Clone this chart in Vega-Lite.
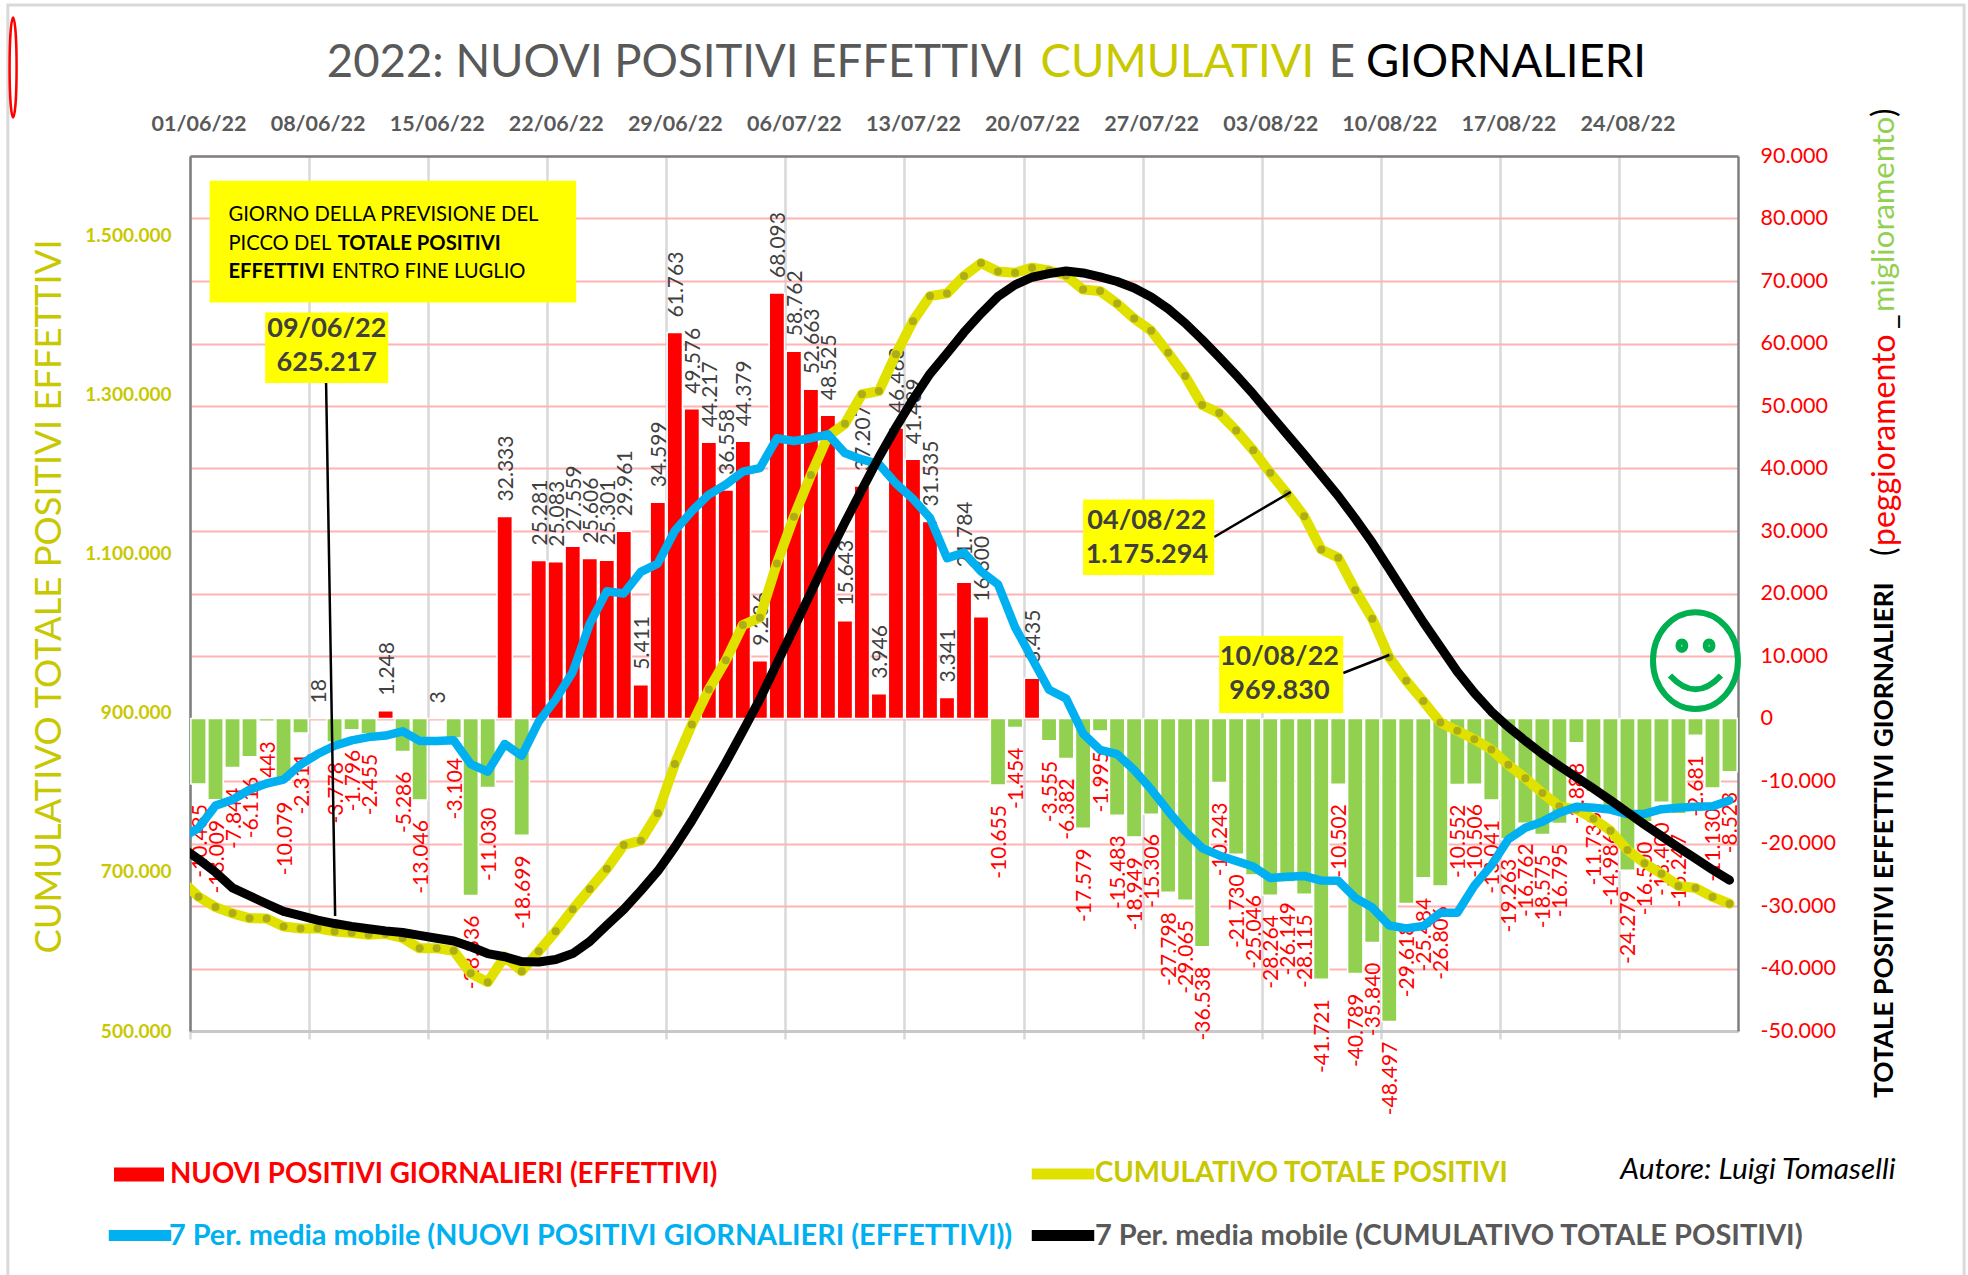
{"$schema":"https://vega.github.io/schema/vega-lite/v6.json","width":1548,"height":875,"autosize":{"type":"none"},"padding":{"left":190,"top":156,"right":230,"bottom":244},"background":"white","config":{"font":"Lato","view":{"stroke":null},"locale":{"number":{"decimal":",","thousands":".","grouping":[3],"currency":["","€"],"minus":"-"}}},
"data":{"values":[
{"d":"2022-05-31T00:00","c":689000,"m":-19120,"b":731000},
{"d":"2022-06-01T00:00","v":-10485,"c":668779,"m":-17520,"b":716000},
{"d":"2022-06-02T00:00","v":-13009,"c":655770,"m":-13940,"b":699500},
{"d":"2022-06-03T00:00","v":-7844,"c":647926,"m":-13000,"b":680000},
{"d":"2022-06-04T00:00","v":-6116,"c":641810,"m":-11400,"b":670000},
{"d":"2022-06-05T00:00","v":-443,"c":641367,"m":-10400,"b":660000},
{"d":"2022-06-06T00:00","v":-10079,"c":631288,"m":-9780,"b":650400},
{"d":"2022-06-07T00:00","v":-2311,"c":628977,"m":-7370,"b":645131},
{"d":"2022-06-08T00:00","v":18,"c":628995,"m":-5683,"b":639447},
{"d":"2022-06-09T00:00","v":-3778,"c":625217,"m":-4365,"b":635083},
{"d":"2022-06-10T00:00","v":-1796,"c":623421,"m":-3501,"b":631582},
{"d":"2022-06-11T00:00","v":-2455,"c":620966,"m":-2978,"b":628604},
{"d":"2022-06-12T00:00","v":1248,"c":622214,"m":-2736,"b":625868},
{"d":"2022-06-13T00:00","v":-5286,"c":616928,"m":-2051,"b":623817},
{"d":"2022-06-14T00:00","v":-13046,"c":603882,"m":-3585,"b":620232},
{"d":"2022-06-15T00:00","v":3,"c":603885,"m":-3587,"b":616645},
{"d":"2022-06-16T00:00","v":-3104,"c":600781,"m":-3491,"b":613154},
{"d":"2022-06-17T00:00","v":-28336,"c":572445,"m":-7282,"b":605872},
{"d":"2022-06-18T00:00","v":-11030,"c":561415,"m":-8507,"b":597364},
{"d":"2022-06-19T00:00","v":32333,"c":593748,"m":-4067,"b":593298},
{"d":"2022-06-20T00:00","v":-18699,"c":575049,"m":-5983,"b":587315},
{"d":"2022-06-21T00:00","v":25281,"c":600330,"m":-507,"b":586807},
{"d":"2022-06-22T00:00","v":25083,"c":625413,"m":3075,"b":589883},
{"d":"2022-06-23T00:00","v":27559,"c":652972,"m":7456,"b":597339},
{"d":"2022-06-24T00:00","v":25606,"c":678578,"m":15162,"b":612501},
{"d":"2022-06-25T00:00","v":25301,"c":703879,"m":20352,"b":632853},
{"d":"2022-06-26T00:00","v":29961,"c":733840,"m":20013,"b":652866},
{"d":"2022-06-27T00:00","v":5411,"c":739251,"m":23457,"b":676323},
{"d":"2022-06-28T00:00","v":34599,"c":773850,"m":24789,"b":701112},
{"d":"2022-06-29T00:00","v":61763,"c":835613,"m":30029,"b":731141},
{"d":"2022-06-30T00:00","v":49576,"c":885189,"m":33174,"b":764314},
{"d":"2022-07-01T00:00","v":44217,"c":929406,"m":35833,"b":800147},
{"d":"2022-07-02T00:00","v":36558,"c":965964,"m":37441,"b":837588},
{"d":"2022-07-03T00:00","v":44379,"c":1010343,"m":39500,"b":877088},
{"d":"2022-07-04T00:00","v":9236,"c":1019579,"m":40047,"b":917135},
{"d":"2022-07-05T00:00","v":68093,"c":1087672,"m":44832,"b":961967},
{"d":"2022-07-06T00:00","v":58762,"c":1146434,"m":44403,"b":1006370},
{"d":"2022-07-07T00:00","v":52663,"c":1199097,"m":44844,"b":1051214},
{"d":"2022-07-08T00:00","v":48525,"c":1247622,"m":45459,"b":1096673},
{"d":"2022-07-09T00:00","v":15643,"c":1263265,"m":42472,"b":1139145},
{"d":"2022-07-10T00:00","v":37207,"c":1300472,"m":41447,"b":1180592},
{"d":"2022-07-11T00:00","v":3946,"c":1304418,"m":40691,"b":1221283},
{"d":"2022-07-12T00:00","v":46463,"c":1350881,"m":37601,"b":1258884},
{"d":"2022-07-13T00:00","v":41489,"c":1392370,"m":35134,"b":1294018},
{"d":"2022-07-14T00:00","v":31535,"c":1423905,"m":32115,"b":1326133},
{"d":"2022-07-15T00:00","v":3341,"c":1427246,"m":25661,"b":1351794},
{"d":"2022-07-16T00:00","v":21784,"c":1449030,"m":26538,"b":1378332},
{"d":"2022-07-17T00:00","v":16300,"c":1465330,"m":23551,"b":1401883},
{"d":"2022-07-18T00:00","v":-10655,"c":1454675,"m":21465,"b":1423348},
{"d":"2022-07-19T00:00","v":-1454,"c":1453221,"m":14620,"b":1437968},
{"d":"2022-07-20T00:00","v":6435,"c":1459656,"m":9612,"b":1447580},
{"d":"2022-07-21T00:00","v":-3555,"c":1456101,"m":4599,"b":1452180},
{"d":"2022-07-22T00:00","v":-6382,"c":1449719,"m":3210,"b":1455390},
{"d":"2022-07-23T00:00","v":-17579,"c":1432140,"m":-2413,"b":1452977},
{"d":"2022-07-24T00:00","v":-1995,"c":1430145,"m":-5026,"b":1447951},
{"d":"2022-07-25T00:00","v":-15483,"c":1414662,"m":-5716,"b":1442235},
{"d":"2022-07-26T00:00","v":-18949,"c":1395713,"m":-8215,"b":1434019},
{"d":"2022-07-27T00:00","v":-15306,"c":1380407,"m":-11321,"b":1422698},
{"d":"2022-07-28T00:00","v":-27798,"c":1352609,"m":-14785,"b":1407914},
{"d":"2022-07-29T00:00","v":-29065,"c":1323544,"m":-18025,"b":1389889},
{"d":"2022-07-30T00:00","v":-36538,"c":1287006,"m":-20733,"b":1369155},
{"d":"2022-07-31T00:00","v":-10243,"c":1276763,"m":-21912,"b":1347243},
{"d":"2022-08-01T00:00","v":-21730,"c":1255033,"m":-22804,"b":1324439},
{"d":"2022-08-02T00:00","v":-25046,"c":1229987,"m":-23675,"b":1300764},
{"d":"2022-08-03T00:00","v":-28264,"c":1201723,"m":-25526,"b":1275238},
{"d":"2022-08-04T00:00","v":-26149,"c":1175294,"m":-25331,"b":1249907},
{"d":"2022-08-05T00:00","v":-28115,"c":1147179,"m":-25195,"b":1224712},
{"d":"2022-08-06T00:00","v":-41721,"c":1105458,"m":-25935,"b":1198777},
{"d":"2022-08-07T00:00","v":-10502,"c":1094956,"m":-25972,"b":1172804},
{"d":"2022-08-08T00:00","v":-40789,"c":1054167,"m":-28695,"b":1144109},
{"d":"2022-08-09T00:00","v":-35840,"c":1018327,"m":-30237,"b":1113872},
{"d":"2022-08-10T00:00","v":-48497,"c":969830,"m":-33128,"b":1080744},
{"d":"2022-08-11T00:00","v":-29618,"c":940212,"m":-33583,"b":1047161},
{"d":"2022-08-12T00:00","v":-25484,"c":914728,"m":-33207,"b":1013954},
{"d":"2022-08-13T00:00","v":-26806,"c":887922,"m":-31077,"b":982877},
{"d":"2022-08-14T00:00","v":-10552,"c":877370,"m":-31084,"b":951794},
{"d":"2022-08-15T00:00","v":-10506,"c":866864,"m":-26758,"b":925036},
{"d":"2022-08-16T00:00","v":-13041,"c":853823,"m":-23501,"b":901536},
{"d":"2022-08-17T00:00","v":-19263,"c":834560,"m":-19324,"b":882211},
{"d":"2022-08-18T00:00","v":-16762,"c":817798,"m":-17488,"b":864724},
{"d":"2022-08-19T00:00","v":-18575,"c":799223,"m":-16501,"b":848223},
{"d":"2022-08-20T00:00","v":-16795,"c":782428,"m":-15071,"b":833152},
{"d":"2022-08-21T00:00","v":-3888,"c":778540,"m":-14119,"b":819034},
{"d":"2022-08-22T00:00","v":-11733,"c":766807,"m":-14294,"b":804740},
{"d":"2022-08-23T00:00","v":-14986,"c":751821,"m":-14572,"b":790168},
{"d":"2022-08-24T00:00","v":-24279,"c":727542,"m":-15288,"b":774880},
{"d":"2022-08-25T00:00","v":-16500,"c":711042,"m":-15251,"b":759629},
{"d":"2022-08-26T00:00","v":-13400,"c":697642,"m":-14512,"b":745117},
{"d":"2022-08-27T00:00","v":-15247,"c":682395,"m":-14290,"b":730827},
{"d":"2022-08-28T00:00","v":-2681,"c":679714,"m":-14118,"b":716709},
{"d":"2022-08-29T00:00","v":-11130,"c":668584,"m":-14032,"b":702677},
{"d":"2022-08-30T00:00","v":-8523,"c":660061,"m":-13109,"b":689569}
]},
"resolve":{"scale":{"y":"independent","color":"independent"},"axis":{"x":"independent","y":"independent"},"legend":{"color":"independent"}},
"layer":[
{"layer":[
{"transform":[{"filter":"isValid(datum.v)"},{"calculate":"datum.v>=0?'NUOVI POSITIVI GIORNALIERI (EFFETTIVI)':'miglioramento'","as":"tipo"}],
"mark":{"type":"bar","width":15.3,"stroke":"white","strokeWidth":1.5},
"encoding":{
"x":{"field":"d","type":"temporal","scale":{"domain":["2022-05-31T12:00","2022-08-30T12:00"],"padding":0},"axis":{"orient":"top","title":null,"grid":false,"ticks":false,"domain":true,"domainColor":"#7f7f7f","domainWidth":2.5,"format":"%d/%m/%y","formatType":"time","labelFontSize":21.5,"labelFontWeight":"bold","labelColor":"#595959","labelPadding":21,"labelOverlap":false,"labelFlush":false,"values":["2022-06-01T00:00","2022-06-08T00:00","2022-06-15T00:00","2022-06-22T00:00","2022-06-29T00:00","2022-07-06T00:00","2022-07-13T00:00","2022-07-20T00:00","2022-07-27T00:00","2022-08-03T00:00","2022-08-10T00:00","2022-08-17T00:00","2022-08-24T00:00"]}},
"y":{"field":"v","type":"quantitative","scale":{"domain":[-50000,90000],"nice":false},"axis":{"orient":"right","title":null,"format":",d","values":[-50000,-40000,-30000,-20000,-10000,0,10000,20000,30000,40000,50000,60000,70000,80000,90000],"labelFontSize":21.5,"labelColor":"#ff0000","labelPadding":22,"ticks":false,"domain":true,"domainColor":"#7f7f7f","domainWidth":2.5,"grid":true,"gridColor":"#ffb3b3","gridWidth":2,"labelOverlap":false,"labelFlush":false}},
"color":{"field":"tipo","type":"nominal","scale":{"domain":["NUOVI POSITIVI GIORNALIERI (EFFETTIVI)","miglioramento"],"range":["#ff0000","#92d050"]},"legend":{"values":["NUOVI POSITIVI GIORNALIERI (EFFETTIVI)"],"orient":"none","legendX":-76,"legendY":993.5,"title":null,"padding":0,"labelFontSize":27.7,"labelFontWeight":"bold","labelColor":"#ff0000","labelLimit":1000,"symbolType":"M-1,-0.28H1V0.28H-1Z","symbolSize":2500,"symbolStrokeWidth":0,"labelOffset":6}}}},
{"transform":[{"filter":"isValid(datum.v) && datum.v>=0"}],"mark":{"type":"text","angle":270,"align":"left","baseline":"middle","dx":15,"dy":2,"fontSize":21,"color":"#404040"},"encoding":{"x":{"field":"d","type":"temporal"},"y":{"field":"v","type":"quantitative"},"text":{"field":"v","type":"quantitative","format":",d"}}},
{"transform":[{"filter":"isValid(datum.v) && datum.v<0"}],"mark":{"type":"text","angle":270,"align":"right","baseline":"middle","dx":-20,"dy":2,"fontSize":21,"color":"#ff0000"},"encoding":{"x":{"field":"d","type":"temporal"},"y":{"field":"v","type":"quantitative"},"text":{"field":"v","type":"quantitative","format":",d"}}}
]},
{"layer":[
{"mark":{"type":"line","strokeWidth":10,"strokeCap":"round","strokeJoin":"round","clip":true},
"encoding":{
"x":{"field":"d","type":"temporal","axis":{"orient":"bottom","title":null,"labels":false,"grid":true,"gridColor":"#d9d9d9","gridWidth":2.5,"ticks":true,"tickSize":8,"tickColor":"#d9d9d9","tickWidth":2.5,"domain":true,"domainColor":"#c8c8c8","domainWidth":3,"values":["2022-05-31T12:00","2022-06-07T12:00","2022-06-14T12:00","2022-06-21T12:00","2022-06-28T12:00","2022-07-05T12:00","2022-07-12T12:00","2022-07-19T12:00","2022-07-26T12:00","2022-08-02T12:00","2022-08-09T12:00","2022-08-16T12:00","2022-08-23T12:00"]}},
"y":{"field":"c","type":"quantitative","scale":{"domain":[500000,1600000],"nice":false},"axis":{"orient":"left","title":"CUMULATIVO TOTALE POSITIVI EFFETTIVI","titleColor":"#c8c800","titleFontSize":36.4,"titleFontWeight":"normal","titleX":-122,"titleY":440,"format":",d","values":[500000,700000,900000,1100000,1300000,1500000],"labelFontSize":19,"labelFontWeight":"bold","labelColor":"#c8c800","labelPadding":19,"ticks":false,"domain":true,"domainColor":"#7f7f7f","domainWidth":2.5,"grid":false,"labelOverlap":false,"labelFlush":false}},
"color":{"datum":"CUMULATIVO TOTALE POSITIVI","type":"nominal","scale":{"range":["#e1e100"]},"legend":{"orient":"none","legendX":836,"legendY":981,"title":null,"padding":0,"labelFontSize":27.7,"labelFontWeight":"bold","labelColor":"#c8c800","labelLimit":1000,"symbolType":"stroke","symbolSize":3900,"symbolStrokeWidth":11,"labelOffset":-5}}}},
{"mark":{"type":"point","filled":true,"size":64,"color":"#a3a31a","opacity":0.85,"clip":true},"encoding":{"x":{"field":"d","type":"temporal"},"y":{"field":"c","type":"quantitative"}}}
]},
{"mark":{"type":"line","strokeWidth":8.5,"strokeCap":"round","strokeJoin":"round","clip":true},
"encoding":{"x":{"field":"d","type":"temporal","axis":null},"y":{"field":"m","type":"quantitative","scale":{"domain":[-50000,90000],"nice":false},"axis":null},
"color":{"datum":"7 Per. media mobile (NUOVI POSITIVI GIORNALIERI (EFFETTIVI))","type":"nominal","scale":{"range":["#00b0f0"]},"legend":{"orient":"none","legendX":-87,"legendY":1042.5,"title":null,"padding":0,"labelFontSize":28.8,"labelFontWeight":"bold","labelColor":"#00b0f0","labelLimit":1200,"symbolType":"stroke","symbolSize":3900,"symbolStrokeWidth":11,"labelOffset":-8}}}},
{"mark":{"type":"line","strokeWidth":9,"strokeCap":"round","strokeJoin":"round","clip":true},
"encoding":{"x":{"field":"d","type":"temporal","axis":null},"y":{"field":"b","type":"quantitative","scale":{"domain":[500000,1600000],"nice":false},"axis":null},
"color":{"datum":"7 Per. media mobile (CUMULATIVO TOTALE POSITIVI)","type":"nominal","scale":{"range":["#000000"]},"legend":{"orient":"none","legendX":836,"legendY":1042.5,"title":null,"padding":0,"labelFontSize":29,"labelFontWeight":"bold","labelColor":"#595959","labelLimit":1200,"symbolType":"stroke","symbolSize":3900,"symbolStrokeWidth":11,"labelOffset":-5}}}},
{"data":{"values":[{"n":1}]},"layer":[
{"mark":{"type":"rect","fill":null,"stroke":"#d9d9d9","strokeWidth":3},"encoding":{"x":{"datum":{"year":2022,"month":5,"date":20,"hours":19},"type":"temporal","axis":null},"x2":{"datum":{"year":2022,"month":9,"date":12,"hours":19}},"y":{"datum":114160,"type":"quantitative","scale":{"domain":[-50000,90000],"nice":false},"axis":null},"y2":{"datum":-91440}}},
{"mark":{"type":"rule","color":"black","strokeWidth":2.5},"encoding":{"x":{"datum":{"year":2022,"month":6,"date":8,"hours":12},"type":"temporal","axis":null},"x2":{"datum":{"year":2022,"month":6,"date":9,"hours":0,"minutes":45}},"y":{"datum":53680,"type":"quantitative"},"y2":{"datum":-31600}}},
{"mark":{"type":"rule","color":"black","strokeWidth":2.5},"encoding":{"x":{"datum":{"year":2022,"month":7,"date":30,"hours":17},"type":"temporal","axis":null},"x2":{"datum":{"year":2022,"month":8,"date":4,"hours":5}},"y":{"datum":29040,"type":"quantitative"},"y2":{"datum":36240}}},
{"mark":{"type":"rule","color":"black","strokeWidth":2.5},"encoding":{"x":{"datum":{"year":2022,"month":8,"date":7,"hours":7},"type":"temporal","axis":null},"x2":{"datum":{"year":2022,"month":8,"date":10,"hours":0}},"y":{"datum":7280,"type":"quantitative"},"y2":{"datum":10160}}},
{"mark":{"type":"rect","fill":"#ffff00"},"encoding":{"x":{"datum":{"year":2022,"month":6,"date":1,"hours":15,"minutes":40},"type":"temporal","axis":null},"x2":{"datum":{"year":2022,"month":6,"date":23,"hours":4,"minutes":48}},"y":{"datum":86048,"type":"quantitative"},"y2":{"datum":66560}}},
{"mark":{"type":"rect","fill":"#ffff00"},"encoding":{"x":{"datum":{"year":2022,"month":6,"date":4,"hours":22},"type":"temporal","axis":null},"x2":{"datum":{"year":2022,"month":6,"date":12,"hours":3,"minutes":40}},"y":{"datum":64960,"type":"quantitative"},"y2":{"datum":53680}}},
{"mark":{"type":"rect","fill":"#ffff00"},"encoding":{"x":{"datum":{"year":2022,"month":7,"date":23},"type":"temporal","axis":null},"x2":{"datum":{"year":2022,"month":7,"date":30,"hours":17}},"y":{"datum":35040,"type":"quantitative"},"y2":{"datum":22960}}},
{"mark":{"type":"rect","fill":"#ffff00"},"encoding":{"x":{"datum":{"year":2022,"month":7,"date":31},"type":"temporal","axis":null},"x2":{"datum":{"year":2022,"month":8,"date":7,"hours":7}},"y":{"datum":13200,"type":"quantitative"},"y2":{"datum":880}}},
{"mark":{"type":"text","align":"left","baseline":"middle","fontSize":20.2,"color":"black"},"encoding":{"x":{"datum":{"year":2022,"month":6,"date":2,"hours":18,"minutes":14},"type":"temporal","axis":null},"y":{"datum":80624,"type":"quantitative"},"text":{"value":"GIORNO DELLA PREVISIONE DEL"}}},
{"mark":{"type":"text","align":"left","baseline":"middle","fontSize":20.2,"color":"black"},"encoding":{"x":{"datum":{"year":2022,"month":6,"date":2,"hours":18,"minutes":14},"type":"temporal","axis":null},"y":{"datum":76000,"type":"quantitative"},"text":{"value":"PICCO DEL"}}},
{"mark":{"type":"text","align":"left","baseline":"middle","fontSize":20.2,"fontWeight":"bold","color":"black"},"encoding":{"x":{"datum":{"year":2022,"month":6,"date":9,"hours":4,"minutes":20},"type":"temporal","axis":null},"y":{"datum":76000,"type":"quantitative"},"text":{"value":"TOTALE POSITIVI"}}},
{"mark":{"type":"text","align":"left","baseline":"middle","fontSize":20.2,"fontWeight":"bold","color":"black"},"encoding":{"x":{"datum":{"year":2022,"month":6,"date":2,"hours":18,"minutes":14},"type":"temporal","axis":null},"y":{"datum":71376,"type":"quantitative"},"text":{"value":"EFFETTIVI"}}},
{"mark":{"type":"text","align":"left","baseline":"middle","fontSize":20.2,"color":"black"},"encoding":{"x":{"datum":{"year":2022,"month":6,"date":8,"hours":20},"type":"temporal","axis":null},"y":{"datum":71376,"type":"quantitative"},"text":{"value":"ENTRO FINE LUGLIO"}}},
{"mark":{"type":"text","align":"center","baseline":"middle","fontSize":27,"fontWeight":"bold","color":"#404040","lineHeight":34},"encoding":{"x":{"datum":{"year":2022,"month":6,"date":8,"hours":13},"type":"temporal","axis":null},"y":{"datum":62300,"type":"quantitative"},"text":{"value":["09/06/22","625.217"]}}},
{"mark":{"type":"text","align":"center","baseline":"middle","fontSize":27,"fontWeight":"bold","color":"#404040","lineHeight":34},"encoding":{"x":{"datum":{"year":2022,"month":7,"date":26,"hours":18},"type":"temporal","axis":null},"y":{"datum":31610,"type":"quantitative"},"text":{"value":["04/08/22","1.175.294"]}}},
{"mark":{"type":"text","align":"center","baseline":"middle","fontSize":27,"fontWeight":"bold","color":"#404040","lineHeight":34},"encoding":{"x":{"datum":{"year":2022,"month":8,"date":3,"hours":13},"type":"temporal","axis":null},"y":{"datum":9860,"type":"quantitative"},"text":{"value":["10/08/22","969.830"]}}},
{"mark":{"type":"text","align":"left","baseline":"middle","fontSize":45.5,"color":"#595959"},"encoding":{"x":{"datum":{"year":2022,"month":6,"date":8,"hours":13},"type":"temporal","axis":null},"y":{"datum":104960,"type":"quantitative"},"text":{"value":"2022: NUOVI POSITIVI EFFETTIVI"}}},
{"mark":{"type":"text","align":"left","baseline":"middle","fontSize":45.5,"color":"#c8c800"},"encoding":{"x":{"datum":{"year":2022,"month":7,"date":20,"hours":12},"type":"temporal","axis":null},"y":{"datum":104960,"type":"quantitative"},"text":{"value":"CUMULATIVI"}}},
{"mark":{"type":"text","align":"left","baseline":"middle","fontSize":45.5,"color":"#595959"},"encoding":{"x":{"datum":{"year":2022,"month":8,"date":6,"hours":10,"minutes":30},"type":"temporal","axis":null},"y":{"datum":104960,"type":"quantitative"},"text":{"value":"E"}}},
{"mark":{"type":"text","align":"left","baseline":"middle","fontSize":45.5,"color":"black"},"encoding":{"x":{"datum":{"year":2022,"month":8,"date":8,"hours":15},"type":"temporal","axis":null},"y":{"datum":104960,"type":"quantitative"},"text":{"value":"GIORNALIERI"}}},
{"mark":{"type":"text","angle":270,"align":"left","baseline":"middle","dy":156,"fontSize":26.3,"fontWeight":"bold","color":"black"},"encoding":{"x":{"datum":{"year":2022,"month":8,"date":30},"type":"temporal","axis":null},"y":{"datum":-60720,"type":"quantitative"},"text":{"value":"TOTALE POSITIVI EFFETTIVI GIORNALIERI"}}},
{"mark":{"type":"text","angle":270,"align":"left","baseline":"middle","dy":156,"fontSize":32,"color":"black"},"encoding":{"x":{"datum":{"year":2022,"month":8,"date":30},"type":"temporal","axis":null},"y":{"datum":26000,"type":"quantitative"},"text":{"value":"("}}},
{"mark":{"type":"text","angle":270,"align":"left","baseline":"middle","dy":156,"fontSize":32,"color":"#ff0000"},"encoding":{"x":{"datum":{"year":2022,"month":8,"date":30},"type":"temporal","axis":null},"y":{"datum":27600,"type":"quantitative"},"text":{"value":"peggioramento"}}},
{"mark":{"type":"text","angle":270,"align":"left","baseline":"middle","dy":156,"fontSize":32,"color":"black"},"encoding":{"x":{"datum":{"year":2022,"month":8,"date":30},"type":"temporal","axis":null},"y":{"datum":62320,"type":"quantitative"},"text":{"value":"_"}}},
{"mark":{"type":"text","angle":270,"align":"left","baseline":"middle","dy":156,"fontSize":31,"color":"#92d050"},"encoding":{"x":{"datum":{"year":2022,"month":8,"date":30},"type":"temporal","axis":null},"y":{"datum":65040,"type":"quantitative"},"text":{"value":"miglioramento"}}},
{"mark":{"type":"text","angle":270,"align":"left","baseline":"middle","dy":156,"fontSize":32,"color":"black"},"encoding":{"x":{"datum":{"year":2022,"month":8,"date":30},"type":"temporal","axis":null},"y":{"datum":96240,"type":"quantitative"},"text":{"value":")"}}},
{"mark":{"type":"text","align":"left","baseline":"middle","fontSize":29.8,"fontStyle":"italic","color":"black"},"encoding":{"x":{"datum":{"year":2022,"month":8,"date":23,"hours":14},"type":"temporal","axis":null},"y":{"datum":-72240,"type":"quantitative"},"text":{"value":"Autore: Luigi Tomaselli"}}},
{"mark":{"type":"point","shape":"M-1,0A1,1.14 0 1,1 1,0A1,1.14 0 1,1 -1,0Z M-0.4,-0.35A0.08,0.1 0 1,1 -0.24,-0.35A0.08,0.1 0 1,1 -0.4,-0.35Z M0.24,-0.35A0.08,0.1 0 1,1 0.4,-0.35A0.08,0.1 0 1,1 0.24,-0.35Z M-0.6,0.35Q0,1 0.6,0.35","size":7225,"filled":false,"stroke":"#00b050","strokeWidth":6,"opacity":1},"encoding":{"x":{"datum":{"year":2022,"month":8,"date":28},"type":"temporal","axis":null},"y":{"datum":9264,"type":"quantitative"}}},
{"mark":{"type":"point","shape":"M0,-1A0.07,1 0 1,1 0,1A0.07,1 0 1,1 0,-1Z","size":10000,"filled":false,"stroke":"#ff0000","strokeWidth":2.5,"opacity":1},"encoding":{"x":{"datum":{"year":2022,"month":5,"date":21,"hours":2,"minutes":24},"type":"temporal","axis":null},"y":{"datum":104160,"type":"quantitative"}}}
]}
]}
